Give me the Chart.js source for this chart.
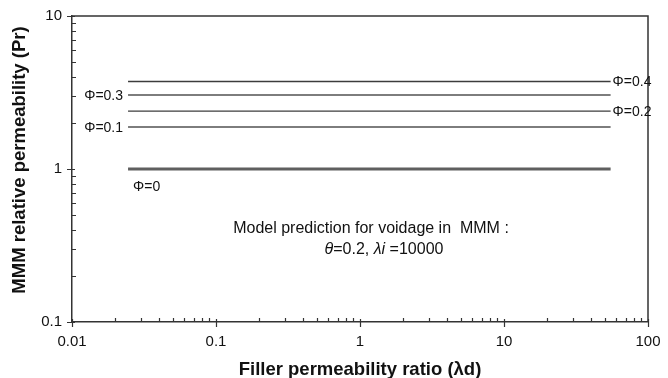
<!DOCTYPE html>
<html>
<head>
<meta charset="utf-8">
<script src="https://cdn.jsdelivr.net/npm/chart.js@4/dist/chart.umd.min.js"></script>
<style>
  html, body { margin: 0; padding: 0; background: #fff; }
  #wrap { width: 668px; height: 378px; }
</style>
</head>
<body>
<div id="wrap"><canvas id="c" width="668" height="378"></canvas></div>
<script>
// Relative permeability of the mixed-matrix membrane for each voidage level
const phiLabels = ['Φ=0', 'Φ=0.1', 'Φ=0.2', 'Φ=0.3', 'Φ=0.4'];
const prValues = [1.0, 1.88, 2.39, 3.04, 3.73];
// Filler permeability ratio span covered by every curve
const lambdaRange = [0.0245, 55];
// Decade tick labels
const xTickValues = [0.01, 0.1, 1, 10, 100];
const yTickValues = [0.1, 1, 10];

const FONT = "'Liberation Sans', Arial, sans-serif";
const lineStyles = [
  { color: '#5f5f5f', width: 3 },
  { color: '#7d7d7d', width: 2 },
  { color: '#3c3c3c', width: 1.4 },
  { color: '#7d7d7d', width: 2 },
  { color: '#3c3c3c', width: 1.4 }
];
// where each curve's label sits relative to the curve
const labelSide = ['below', 'left', 'right', 'left', 'right'];

const datasets = prValues.map((v, i) => ({
  label: phiLabels[i],
  data: lambdaRange.map(x => ({ x: x, y: v })),
  borderColor: lineStyles[i].color,
  borderWidth: lineStyles[i].width,
  pointRadius: 0,
  fill: false
}));

function minorValues(min, max) {
  const out = [];
  for (let e = Math.round(Math.log10(min)); e < Math.round(Math.log10(max)); e++) {
    for (let m = 2; m <= 9; m++) out.push(m * Math.pow(10, e));
  }
  return out;
}

const decorations = {
  id: 'decorations',
  afterDatasetsDraw(chart) {
    const { ctx, chartArea: a, scales: { x, y } } = chart;
    ctx.save();
    // frame on the top and right
    ctx.strokeStyle = '#333';
    ctx.lineWidth = 1.5;
    ctx.beginPath();
    ctx.moveTo(a.left, a.top); ctx.lineTo(a.right, a.top); ctx.lineTo(a.right, a.bottom);
    ctx.stroke();

    // tick marks
    ctx.lineWidth = 1.2;
    ctx.beginPath();
    xTickValues.forEach(v => {
      const px = Math.round(x.getPixelForValue(v)) + 0.5;
      ctx.moveTo(px, a.bottom - 3); ctx.lineTo(px, a.bottom + 5);
    });
    minorValues(0.01, 100).forEach(v => {
      const px = Math.round(x.getPixelForValue(v)) + 0.5;
      ctx.moveTo(px, a.bottom); ctx.lineTo(px, a.bottom - 4);
    });
    yTickValues.forEach(v => {
      const py = Math.round(y.getPixelForValue(v)) + 0.5;
      ctx.moveTo(a.left - 5, py); ctx.lineTo(a.left + 3, py);
    });
    minorValues(0.1, 10).forEach(v => {
      const py = Math.round(y.getPixelForValue(v)) + 0.5;
      ctx.moveTo(a.left, py); ctx.lineTo(a.left + 4, py);
    });
    ctx.stroke();

    // curve labels
    ctx.fillStyle = '#111';
    ctx.font = '14px ' + FONT;
    ctx.textBaseline = 'middle';
    prValues.forEach((v, i) => {
      const py = y.getPixelForValue(v);
      const x0 = x.getPixelForValue(lambdaRange[0]);
      const x1 = x.getPixelForValue(lambdaRange[1]);
      if (labelSide[i] === 'left') {
        ctx.textAlign = 'right';
        ctx.fillText(phiLabels[i], x0 - 5, py + 1);
      } else if (labelSide[i] === 'right') {
        ctx.textAlign = 'left';
        ctx.fillText(phiLabels[i], x1 + 2, py + 1);
      } else {
        ctx.textAlign = 'left';
        ctx.fillText(phiLabels[i], x0 + 5, py + 18);
      }
    });

    // model note
    ctx.font = '16px ' + FONT;
    ctx.textAlign = 'center';
    ctx.fillText('Model prediction for voidage in  MMM :', 371, 229);
    const parts = [
      { t: 'θ', it: true }, { t: '=0.2, ', it: false },
      { t: 'λi', it: true }, { t: ' =10000', it: false }
    ];
    let total = 0;
    parts.forEach(p => {
      ctx.font = (p.it ? 'italic ' : '') + '16px ' + FONT;
      p.w = ctx.measureText(p.t).width; total += p.w;
    });
    let cx = 384 - total / 2;
    ctx.textAlign = 'left';
    parts.forEach(p => {
      ctx.font = (p.it ? 'italic ' : '') + '16px ' + FONT;
      ctx.fillText(p.t, cx, 250); cx += p.w;
    });

    // axis titles
    ctx.font = 'bold 18.5px ' + FONT;
    ctx.textAlign = 'center';
    ctx.fillText('Filler permeability ratio (λd)', (a.left + a.right) / 2, 370);
    ctx.translate(20, 160);
    ctx.rotate(-Math.PI / 2);
    ctx.fillText('MMM relative permeability (Pr)', 0, 0);
    ctx.restore();
  }
};

new Chart(document.getElementById('c'), {
  type: 'line',
  data: { datasets: datasets },
  options: {
    responsive: false,
    devicePixelRatio: 1,
    animation: false,
    layout: { padding: { top: 16, right: 20, left: 0, bottom: 0 } },
    plugins: { legend: { display: false }, tooltip: { enabled: false } },
    scales: {
      x: {
        type: 'logarithmic', min: 0.01, max: 100,
        grid: { display: false },
        border: { display: true, color: '#333', width: 1.5 },
        afterBuildTicks: s => { s.ticks = xTickValues.map(v => ({ value: v })); },
        afterFit: s => { s.height = 56; },
        ticks: {
          autoSkip: false, maxRotation: 0, padding: 3, color: '#111',
          font: { family: FONT, size: 15 },
          callback: v => String(v)
        }
      },
      y: {
        type: 'logarithmic', min: 0.1, max: 10,
        grid: { display: false },
        border: { display: true, color: '#333', width: 1.5 },
        afterBuildTicks: s => { s.ticks = yTickValues.map(v => ({ value: v })); },
        afterFit: s => { s.width = 72; },
        ticks: {
          autoSkip: false, padding: 2, color: '#111',
          font: { family: FONT, size: 15 },
          callback: v => String(v)
        }
      }
    }
  },
  plugins: [decorations]
});
</script>
</body>
</html>
